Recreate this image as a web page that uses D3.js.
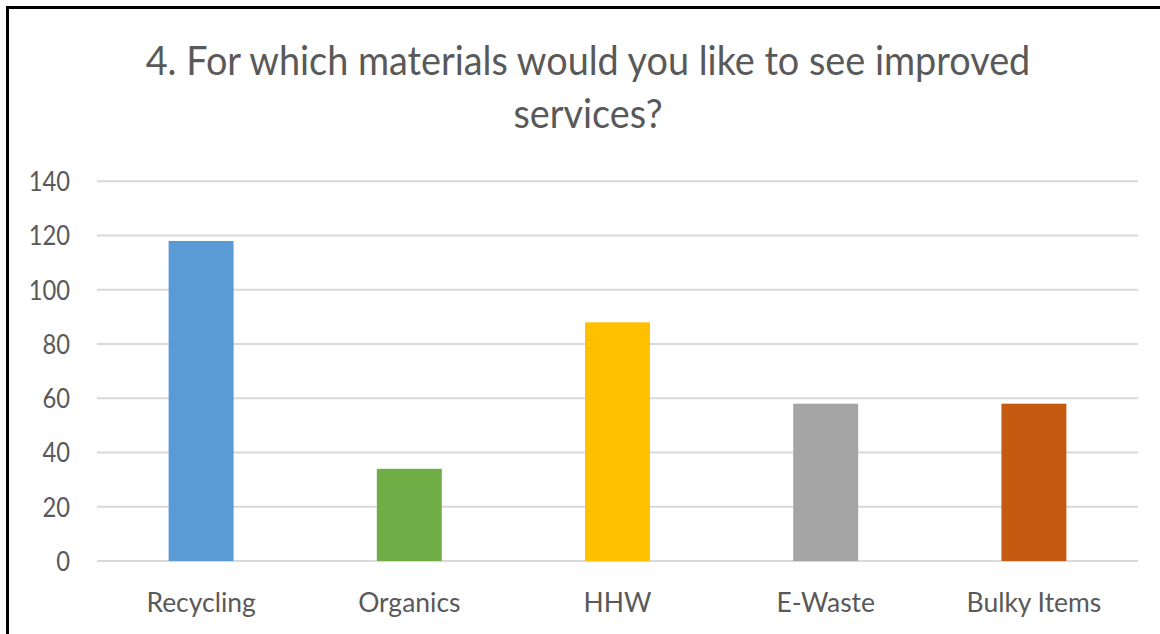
<!DOCTYPE html>
<html>
<head>
<meta charset="utf-8">
<script src="https://cdn.jsdelivr.net/npm/d3@7"></script>
<style>
  html, body { margin: 0; padding: 0; background: #fff; }
  svg { display: block; }
  text { font-family: Lato, "Open Sans", sans-serif; fill: #595959; }
</style>
</head>
<body>
<svg id="chart" width="1160" height="634"></svg>
<script>
// Survey responses: materials for which improved services are wanted
const categories = ["Recycling", "Organics", "HHW", "E-Waste", "Bulky Items"];
const responses = [118, 34, 88, 58, 58];
const barColors = ["#5B9BD5", "#70AD47", "#FFC000", "#A5A5A5", "#C55A11"];
const yTicks = [0, 20, 40, 60, 80, 100, 120, 140];
const titleLines = ["4. For which materials would you like to see improved", "services?"];

const svg = d3.select("#chart");
const W = 1160, H = 634;

// Squeeze a text element horizontally by a factor, keeping its anchor
function squeeze(sel, factor) {
  sel.each(function() {
    const w = this.getComputedTextLength();
    d3.select(this).attr("textLength", w * factor).attr("lengthAdjust", "spacingAndGlyphs");
  });
}

// Frame around the chart
svg.append("rect")
  .attr("x", 7.5).attr("y", 7.5)
  .attr("width", W + 20).attr("height", H + 20)
  .attr("fill", "#fff")
  .attr("stroke", "#000").attr("stroke-width", 3);

const plot = { left: 97, right: 1138, top: 181.3, bottom: 561 };

const x = d3.scaleBand()
  .domain(categories)
  .range([plot.left, plot.right])
  .paddingInner(0.688)
  .paddingOuter(0.344);

const y = d3.scaleLinear()
  .domain([0, 140])
  .range([plot.bottom, plot.top]);

// Horizontal gridlines
svg.append("g")
  .selectAll("line")
  .data(yTicks)
  .join("line")
  .attr("x1", plot.left).attr("x2", plot.right)
  .attr("y1", d => y(d)).attr("y2", d => y(d))
  .attr("stroke", "#D9D9D9").attr("stroke-width", 2);

// Y axis labels (no axis line)
const yAxis = svg.append("g")
  .attr("transform", `translate(${plot.left},0)`)
  .call(d3.axisLeft(y).tickValues(yTicks).tickSize(0).tickPadding(27));
yAxis.select(".domain").remove();
yAxis.selectAll("text")
  .attr("font-size", 27)
  .attr("font-family", "Lato, 'Open Sans', sans-serif")
  .attr("fill", "#595959")
  .attr("dy", "0.35em")
  .call(squeeze, 0.88);

// Bars
svg.append("g")
  .selectAll("rect")
  .data(categories)
  .join("rect")
  .attr("x", d => x(d))
  .attr("width", x.bandwidth())
  .attr("y", (d, i) => y(responses[i]))
  .attr("height", (d, i) => y(0) - y(responses[i]))
  .attr("fill", (d, i) => barColors[i]);

// Category labels
const xAxis = svg.append("g")
  .attr("transform", `translate(0,${plot.bottom})`)
  .call(d3.axisBottom(x).tickSize(0).tickPadding(42));
xAxis.select(".domain").remove();
xAxis.selectAll("text")
  .attr("font-size", 27)
  .attr("font-family", "Lato, 'Open Sans', sans-serif")
  .attr("fill", "#595959")
  .attr("dy", "0.35em")
  .call(squeeze, 0.98);

// Title
const title = svg.append("g").attr("text-anchor", "middle");
title.selectAll("text")
  .data(titleLines)
  .join("text")
  .attr("x", 588)
  .attr("y", (d, i) => 75 + i * 53)
  .attr("font-size", 40)
  .attr("fill", "#595959")
  .text(d => d)
  .call(squeeze, 0.945);
</script>
</body>
</html>
